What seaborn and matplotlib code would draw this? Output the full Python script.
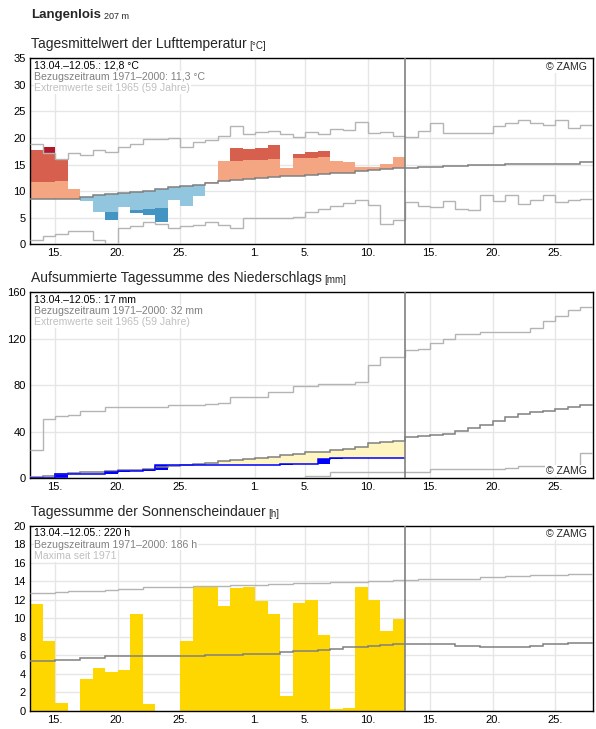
import numpy as np
import pandas as pd
import matplotlib.pyplot as plt
import seaborn as sns

# --- data (days from 13.04., index 0 .. 44) ---
tick_pos = [2, 7, 12, 18, 22, 27, 32, 37, 42]
tick_lab = ['15.', '20.', '25.', '1.', '5.', '10.', '15.', '20.', '25.']

# air temperature, daily mean [°C]
t_obs = [17.8, 18.3, 16.0, 10.5, 8.2, 6.1, 4.5, 7.1, 5.9, 5.5, 4.2, 8.3, 7.2, 9.1, 11.8,
         15.7, 18.2, 18.0, 18.2, 18.6, 14.4, 17.0, 17.4, 17.6, 15.7, 15.4, 14.6, 14.6, 15.1, 16.5]
t_edge = [11.8, 11.8, 11.9, 10.5, 8.2, 6.1, 6.1, 7.1, 6.4, 6.6, 6.9, 8.3, 7.2, 9.1, 11.8,
          15.6, 15.6, 15.8, 15.9, 16.1, 14.4, 16.3, 16.3, 16.5, 15.7, 15.4, 14.6, 14.6, 15.1, 16.5]
t_clim = [8.45, 8.5, 8.6, 8.6, 8.95, 9.2, 9.4, 9.6, 9.8, 10.1, 10.4, 10.7, 10.9, 11.1, 11.6,
          11.9, 12.1, 12.3, 12.4, 12.7, 12.8, 12.9, 13.1, 13.2, 13.4, 13.5, 13.7, 13.9, 14.1, 14.3,
          14.35, 14.5, 14.5, 14.7, 14.7, 15.0, 15.0, 15.0, 15.2, 15.2, 15.2, 15.2, 15.2, 15.2, 15.5]
t_max = [18.9, 17.2, 16.0, 17.2, 16.8, 17.7, 17.3, 18.3, 18.8, 19.8, 19.8, 20.0, 18.3, 19.2, 19.7,
         20.3, 22.3, 20.8, 21.2, 21.4, 20.8, 20.2, 21.2, 20.8, 21.7, 21.6, 23.1, 20.9, 21.1, 20.4,
         20.2, 21.4, 22.8, 20.9, 20.9, 20.9, 20.9, 22.2, 22.8, 23.3, 22.8, 22.5, 23.3, 21.8, 22.5]
t_min = [0.75, 1.5, 2.0, 2.5, 2.5, 0.75, 0.1, 3.15, 3.4, 4.2, 3.9, 3.0, 3.4, 3.6, 4.2,
         3.6, 3.15, 5.0, 5.0, 4.9, 4.9, 5.2, 6.1, 6.7, 7.2, 7.7, 8.3, 7.4, 3.9, 4.5,
         8.0, 7.3, 7.1, 8.2, 6.7, 6.5, 9.3, 8.2, 9.3, 7.6, 8.4, 9.3, 8.0, 8.3, 8.6]

# precipitation [mm]
p_daily = [0.1, 0.0, 3.2, 0.0, 0.0, 0.0, 2.4, 0.3, 0.3, 1.0, 4.0, 0.0, 0.0, 0.0, 0.0,
           0.0, 0.0, 0.0, 0.0, 0.0, 0.7, 0.0, 0.0, 4.3, 1.1, 0.0, 0.0, 0.0, 0.0, 0.0]
p_clim = [1.4, 2.4, 3.5, 4.4, 5.6, 5.7, 6.7, 7.0, 7.2, 8.0, 9.9, 10.8, 11.8, 12.6, 13.5,
          14.6, 15.6, 16.6, 17.6, 18.2, 20.0, 20.7, 22.2, 23.0, 24.6, 25.5, 27.1, 30.1, 30.9, 31.7,
          35.3, 36.4, 37.3, 38.1, 41.0, 43.0, 45.9, 49.6, 52.5, 55.3, 56.8, 58.2, 59.4, 61.1, 62.8]
p_max = [24.4, 50.8, 53.6, 54.5, 57.9, 57.9, 61.4, 61.4, 61.4, 61.4, 61.4, 62.8, 62.8, 62.8, 64.0,
         64.5, 69.7, 69.7, 69.7, 74.0, 74.0, 79.1, 79.1, 81.4, 81.4, 81.4, 82.6, 97.8, 104.0, 104.0,
         110.4, 111.5, 116.1, 120.1, 124.4, 124.4, 126.2, 126.2, 126.2, 126.2, 129.0, 135.0, 139.4, 145.1, 147.1]
p_min = [0.0] * 15 + [0.6] * 7 + [1.8] * 2 + [5.0] * 6 + [5.2] * 2 + [7.7] * 6 + [8.6] + [10.3] * 5 + [21.5]

# sunshine duration [h]
s_obs = [11.6, 7.55, 0.9, 0.0, 3.45, 4.64, 4.2, 4.4, 10.5, 0.75, 0.0, 0.0, 7.55, 13.4, 13.4,
         11.3, 13.3, 13.4, 11.9, 10.5, 1.6, 11.65, 12.0, 8.2, 0.2, 0.3, 13.4, 12.0, 8.6, 9.9]
s_clim = [5.4, 5.4, 5.55, 5.55, 5.75, 5.75, 5.9, 5.9, 5.9, 5.95, 5.95, 5.95, 5.95, 5.95, 6.0,
          6.0, 6.0, 6.1, 6.2, 6.2, 6.35, 6.5, 6.5, 6.6, 6.7, 6.9, 6.9, 7.05, 7.1, 7.2,
          7.2, 7.2, 7.2, 7.2, 7.05, 7.05, 6.95, 6.95, 6.95, 6.95, 7.05, 7.2, 7.2, 7.3, 7.3]
s_max = [12.7, 12.77, 12.85, 12.9, 12.97, 12.97, 13.05, 13.2, 13.2, 13.35, 13.35, 13.35, 13.4, 13.5, 13.5,
         13.5, 13.6, 13.6, 13.6, 13.7, 13.7, 13.8, 13.8, 13.8, 13.9, 13.9, 13.9, 14.0, 14.0, 14.1,
         14.1, 14.2, 14.2, 14.2, 14.3, 14.3, 14.45, 14.45, 14.55, 14.55, 14.65, 14.65, 14.65, 14.8, 14.8]

DARK = '#808080'
LIGHT = '#b4b4b4'

sns.set_style("whitegrid")
plt.rcParams['font.family'] = ['Liberation Sans', 'DejaVu Sans']

W, H = 596, 729
fig = plt.figure(figsize=(W / 100, H / 100), dpi=100)


def panel(top_px, height_px):
    return fig.add_axes([30 / W, 1 - (top_px + height_px) / H, 562.7 / W, height_px / H])


def style(ax, ymax, ystep):
    ax.set_xlim(0, 45)
    ax.set_ylim(0, ymax)
    ax.set_xticks(tick_pos, tick_lab)
    ax.set_yticks(np.arange(0, ymax + 1, ystep))
    ax.grid(True, color='#e6e6e6', lw=1.0)
    ax.set_axisbelow(True)
    ax.tick_params(length=0, labelsize=8, pad=3, labelcolor='black')
    for s in ax.spines.values():
        s.set_color('black')
        s.set_linewidth(1.0)
    ax.axvline(30, color=DARK, lw=1.2, zorder=5)
    ax.set_xlabel('')
    ax.set_ylabel('')


def title(ax, top_px, txt, unit):
    t = fig.text(30.7 / W, 1 - (top_px - 10) / H, txt, fontsize=10, va='baseline')
    ax.annotate(unit, xy=(1, 0), xycoords=t, xytext=(2, 0), textcoords='offset points',
                fontsize=7, va='bottom', annotation_clip=False)


def infotext(ax, lines):
    for k, (s, c) in enumerate(zip(lines, ['black', DARK, '#c0c0c0'])):
        ax.annotate(s, xy=(0, 1), xycoords='axes fraction',
                    xytext=(4.5 * 0.72, (-2.5 - 11.3 * k) * 0.72), textcoords='offset points',
                    va='top', ha='left', fontsize=7.6, color=c, zorder=7,
                    bbox=dict(facecolor='white', edgecolor='none', pad=0.6))


def zamg(ax, top=True):
    if top:
        ax.annotate('© ZAMG', xy=(1, 1), xycoords='axes fraction', xytext=(-4.5, -2.5),
                    textcoords='offset points', ha='right', va='top', fontsize=7.6, zorder=7,
                    bbox=dict(facecolor='white', edgecolor='none', pad=0.6))
    else:
        ax.annotate('© ZAMG', xy=(1, 0), xycoords='axes fraction', xytext=(-4.5, 2),
                    textcoords='offset points', ha='right', va='bottom', fontsize=7.6, zorder=7,
                    bbox=dict(facecolor='white', edgecolor='none', pad=0.6))


edges = np.arange(46)
days = np.arange(30)

# ---------- temperature ----------
ax1 = panel(58.3, 186)
for i in days:
    o, e, c, mx, mn = t_obs[i], t_edge[i], t_clim[i], t_max[i], t_min[i]
    if o >= c:
        ax1.bar(i, min(o, e) - c, bottom=c, width=1, align='edge', color='#f4a582', lw=0, zorder=2)
        if o > e:
            ax1.bar(i, min(o, mx) - e, bottom=e, width=1, align='edge', color='#d6604d', lw=0, zorder=2)
        if o > mx:
            ax1.bar(i, o - mx, bottom=mx, width=1, align='edge', color='#b2182b', lw=0, zorder=2)
    else:
        lo = max(o, e)
        ax1.bar(i, c - lo, bottom=lo, width=1, align='edge', color='#92c5de', lw=0, zorder=2)
        if o < e:
            ax1.bar(i, e - max(o, mn), bottom=max(o, mn), width=1, align='edge', color='#4393c3', lw=0, zorder=2)
ax1.stairs(t_max, edges, baseline=None, color=LIGHT, lw=1.0, zorder=3)
ax1.stairs(t_min, edges, baseline=None, color=LIGHT, lw=1.0, zorder=3)
ax1.stairs(t_clim, edges, baseline=None, color=DARK, lw=1.1, zorder=4)
style(ax1, 35, 5)
infotext(ax1, ['13.04.–12.05.: 12,8 °C', 'Bezugszeitraum 1971–2000: 11,3 °C', 'Extremwerte seit 1965 (59 Jahre)'])
zamg(ax1)
title(ax1, 58.3, 'Tagesmittelwert der Lufttemperatur', '[°C]')

# header
hdr = fig.text(31 / W, 1 - 18.3 / H, 'Langenlois', fontsize=9.5, fontweight='bold', va='baseline')
ax1.annotate('207 m', xy=(1, 0), xycoords=hdr, xytext=(2.5, 0), textcoords='offset points',
             fontsize=6.5, va='bottom', annotation_clip=False)

# ---------- precipitation ----------
ax2 = panel(292.3, 186)
p_cum = np.cumsum(p_daily)
pc = np.array(p_clim[:30])
deficit = np.clip(pc - p_cum, 0, None)
ax2.bar(days, deficit, bottom=p_cum, width=1, align='edge', color='#fff5c0', lw=0, zorder=2)
ax2.bar(days, p_daily, bottom=p_cum - np.array(p_daily), width=1, align='edge', color='#0000ff', lw=0, zorder=3)
ax2.stairs(p_max, edges, baseline=None, color=LIGHT, lw=1.0, zorder=3)
ax2.stairs(p_min, edges, baseline=None, color=LIGHT, lw=1.0, zorder=3)
ax2.stairs(p_clim, edges, baseline=None, color=DARK, lw=1.1, zorder=4)
ax2.stairs(p_cum, edges[:31], baseline=None, color='#0000ff', lw=1.1, zorder=4)
style(ax2, 160, 40)
infotext(ax2, ['13.04.–12.05.: 17 mm', 'Bezugszeitraum 1971–2000: 32 mm', 'Extremwerte seit 1965 (59 Jahre)'])
zamg(ax2, top=False)
title(ax2, 292.3, 'Aufsummierte Tagessumme des Niederschlags', '[mm]')

# ---------- sunshine ----------
ax3 = panel(525.7, 185.3)
sun = pd.DataFrame({'day': days + 0.5, 'hours': s_obs})
sns.barplot(data=sun, x='day', y='hours', native_scale=True, orient='x', width=1,
            color='#ffd700', saturation=1, errorbar=None, linewidth=0, ax=ax3, zorder=2)
ax3.stairs(s_max, edges, baseline=None, color=LIGHT, lw=1.0, zorder=3)
ax3.stairs(s_clim, edges, baseline=None, color=DARK, lw=1.1, zorder=4)
style(ax3, 20, 2)
infotext(ax3, ['13.04.–12.05.: 220 h', 'Bezugszeitraum 1971–2000: 186 h', 'Maxima seit 1971'])
zamg(ax3)
title(ax3, 525.7, 'Tagessumme der Sonnenscheindauer', '[h]')

fig.savefig('out.png', dpi=100)
